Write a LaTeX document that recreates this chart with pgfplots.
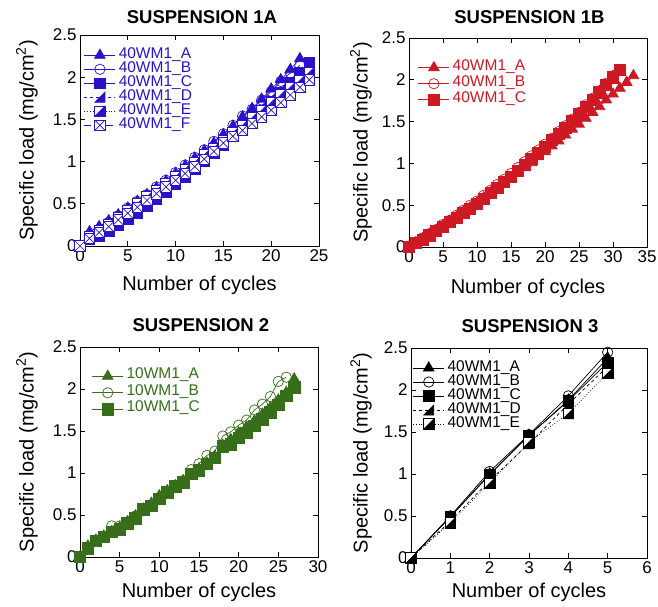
\documentclass[border=0pt]{standalone}
\usepackage{fontspec}
\setmainfont{Liberation Sans}
\usepackage{pgfplots}
\pgfplotsset{compat=1.18}
\definecolor{cB}{RGB}{40,20,200}
\definecolor{cR}{RGB}{205,25,35}
\definecolor{cG}{RGB}{55,110,25}

\pgfdeclareplotmark{rtri}{%
  \pgfpathmoveto{\pgfqpoint{-\pgfplotmarksize}{-\pgfplotmarksize}}%
  \pgfpathlineto{\pgfqpoint{\pgfplotmarksize}{-\pgfplotmarksize}}%
  \pgfpathlineto{\pgfqpoint{\pgfplotmarksize}{\pgfplotmarksize}}%
  \pgfpathclose
  \pgfusepathqfillstroke}
\newcommand\defhalfsq[2]{%
\pgfdeclareplotmark{#1}{%
  \pgfsetfillcolor{white}%
  \pgfpathrectanglecorners{\pgfqpoint{-\pgfplotmarksize}{-\pgfplotmarksize}}{\pgfqpoint{\pgfplotmarksize}{\pgfplotmarksize}}%
  \pgfusepathqfillstroke
  \pgfsetfillcolor{#2}%
  \pgfpathmoveto{\pgfqpoint{-\pgfplotmarksize}{-\pgfplotmarksize}}%
  \pgfpathlineto{\pgfqpoint{\pgfplotmarksize}{-\pgfplotmarksize}}%
  \pgfpathlineto{\pgfqpoint{\pgfplotmarksize}{\pgfplotmarksize}}%
  \pgfpathclose
  \pgfusepathqfillstroke}}
\defhalfsq{hsqB}{cB}
\defhalfsq{hsqK}{black}
\pgfdeclareplotmark{xsq}{%
  \pgfpathrectanglecorners{\pgfqpoint{-\pgfplotmarksize}{-\pgfplotmarksize}}{\pgfqpoint{\pgfplotmarksize}{\pgfplotmarksize}}%
  \pgfusepathqfillstroke
  \pgfpathmoveto{\pgfqpoint{-\pgfplotmarksize}{-\pgfplotmarksize}}%
  \pgfpathlineto{\pgfqpoint{\pgfplotmarksize}{\pgfplotmarksize}}%
  \pgfpathmoveto{\pgfqpoint{-\pgfplotmarksize}{\pgfplotmarksize}}%
  \pgfpathlineto{\pgfqpoint{\pgfplotmarksize}{-\pgfplotmarksize}}%
  \pgfusepathqstroke}

\newcommand\labfont{\fontsize{20}{24}\selectfont}
\newcommand\legfont{\fontsize{15.5}{15.5}\selectfont}
\newcommand\legE[1]{\addlegendentry{\legfont #1}}
\pgfplotsset{
  base/.style={
    scale only axis, clip=false,
    ymin=0, ymax=2.5, ytick={0,0.5,1,1.5,2,2.5},
    tick align=inside, major tick length=5pt,
    axis line style={line width=0.8pt},
    every tick/.append style={black, line width=0.8pt},
    tick label style={font=\fontsize{17}{20}\selectfont},
    /pgf/number format/assume math mode=true,
    title style={font=\fontsize{18.5}{22}\bfseries\selectfont, anchor=center},
    xlabel={Number of cycles},
    ylabel={Specific load (mg/cm\textsuperscript{2})},
    legend cell align=left,
    legend style={draw=none, fill=none, inner sep=0pt, outer sep=0pt,
      font=\legfont, column sep=3pt,
      nodes={inner sep=0pt, text height=10.5pt, text depth=3.5pt}},
    legend image code/.code={\draw[mark repeat=2,mark phase=2,##1] plot coordinates {(0pt,0pt) (15.5pt,0pt) (31pt,0pt)};},
  },
  xl/.style={xlabel style={at={(axis description cs:0.5,#1)}, anchor=center, font=\labfont}},
  yl/.style={ylabel style={at={(axis description cs:#1,0.5)}, anchor=center, rotate=0, font=\labfont}},
  sA/.style={#1, line width=0.7pt, mark=triangle*, mark size=6.2pt, mark options={solid}},
  sB/.style={#1, line width=0.7pt, mark=o, mark size=5.2pt, mark options={solid, fill=white}},
  sC/.style={#1, line width=0.7pt, mark=square*, mark size=5.2pt, mark options={solid}},
  sD/.style={#1, line width=0.7pt, dashed, mark=rtri, mark size=5pt, mark options={solid}},
}

\begin{document}
\begin{tikzpicture}
\useasboundingbox (0pt,0pt) rectangle (658pt,606pt);

% ---------------- SUSPENSION 1A ----------------
\begin{axis}[base, at={(80pt,360pt)}, anchor=south west, width=239pt, height=211pt,
  xmin=0, xmax=25, xtick={0,5,10,15,20,25},
  title={SUSPENSION 1A}, title style={at={(axis description cs:0.51,1.057)}},
  xl=-0.185, yl=-0.222,
  legend style={at={(axis description cs:0.017,0.937)}, anchor=north west, text=cB}]
\addplot[sA=cB] coordinates {(0,0) (1,0.17) (2,0.23) (3,0.30) (4,0.37) (5,0.45) (6,0.53) (7,0.61) (8,0.69) (9,0.77) (10,0.86) (11,0.95) (12,1.04) (13,1.13) (14,1.22) (15,1.32) (16,1.42) (17,1.53) (18,1.63) (19,1.74) (20,1.86) (21,1.97) (22,2.09) (23,2.22)};
\legE{40WM1\_A}
\addplot[sB=cB] coordinates {(0,0) (1,0.12) (2,0.20) (3,0.28) (4,0.36) (5,0.45) (6,0.53) (7,0.61) (8,0.70) (9,0.78) (10,0.87) (11,0.96) (12,1.05) (13,1.14) (14,1.24) (15,1.33) (16,1.43) (17,1.54) (18,1.62) (19,1.73) (20,1.83) (21,1.95) (22,2.05) (23,2.14)};
\legE{40WM1\_B}
\addplot[sC=cB] coordinates {(0,0) (1,0.08) (2,0.12) (3,0.18) (4,0.25) (5,0.32) (6,0.39) (7,0.47) (8,0.55) (9,0.64) (10,0.73) (11,0.82) (12,0.91) (13,1.00) (14,1.10) (15,1.20) (16,1.30) (17,1.40) (18,1.50) (19,1.60) (20,1.71) (21,1.82) (22,1.94) (23,2.05) (24,2.17)};
\legE{40WM1\_C}
\addplot[sD=cB] coordinates {(0,0) (1,0.10) (2,0.16) (3,0.23) (4,0.30) (5,0.38) (6,0.46) (7,0.54) (8,0.62) (9,0.71) (10,0.80) (11,0.89) (12,0.98) (13,1.07) (14,1.17) (15,1.26) (16,1.36) (17,1.46) (18,1.56) (19,1.66) (20,1.76) (21,1.86) (22,1.96) (23,2.06) (24,2.16)};
\legE{40WM1\_D}
\addplot[cB, line width=0.7pt, dotted, mark=hsqB, mark size=5.2pt, mark options={solid}] coordinates {(0,0) (1,0.11) (2,0.18) (3,0.26) (4,0.34) (5,0.42) (6,0.50) (7,0.58) (8,0.66) (9,0.74) (10,0.82) (11,0.91) (12,0.99) (13,1.08) (14,1.16) (15,1.25) (16,1.34) (17,1.43) (18,1.52) (19,1.61) (20,1.70) (21,1.79) (22,1.88) (23,1.96) (24,2.06)};
\legE{40WM1\_E}
\addplot[cB, line width=0.7pt, dash pattern=on 7pt off 4pt, mark=xsq, mark size=5.2pt, mark options={solid, fill=white}] coordinates {(0,0) (1,0.09) (2,0.16) (3,0.23) (4,0.31) (5,0.39) (6,0.46) (7,0.54) (8,0.62) (9,0.70) (10,0.78) (11,0.86) (12,0.94) (13,1.03) (14,1.12) (15,1.22) (16,1.30) (17,1.37) (18,1.45) (19,1.53) (20,1.61) (21,1.70) (22,1.79) (23,1.88) (24,1.97)};
\legE{40WM1\_F}
\end{axis}

% ---------------- SUSPENSION 1B ----------------
\begin{axis}[base, at={(409pt,359pt)}, anchor=south west, width=238pt, height=209pt,
  xmin=0, xmax=35, xtick={0,5,10,15,20,25,30,35},
  title={SUSPENSION 1B}, title style={at={(axis description cs:0.506,1.07)}},
  xl=-0.199, yl=-0.202,
  legend style={at={(axis description cs:0.038,0.896)}, anchor=north west, text=cR,
    nodes={text depth=5.5pt}}]
\addplot[sA=cR] coordinates {(0,0) (1,0.05) (2,0.10) (3,0.15) (4,0.20) (5,0.255) (6,0.31) (7,0.36) (8,0.42) (9,0.47) (10,0.53) (11,0.59) (12,0.65) (13,0.70) (14,0.76) (15,0.83) (16,0.89) (17,0.95) (18,1.01) (19,1.08) (20,1.14) (21,1.21) (22,1.27) (23,1.34) (24,1.41) (25,1.47) (26,1.54) (27,1.61) (28,1.68) (29,1.76) (30,1.83) (31,1.90) (32,1.97) (33,2.05)};
\legE{40WM1\_A}
\addplot[sB=cR] coordinates {(0,0) (1,0.06) (2,0.11) (3,0.16) (4,0.21) (5,0.27) (6,0.32) (7,0.38) (8,0.44) (9,0.50) (10,0.55) (11,0.62) (12,0.68) (13,0.75) (14,0.81) (15,0.88) (16,0.95) (17,1.02) (18,1.09) (19,1.16) (20,1.23) (21,1.30) (22,1.38) (23,1.45) (24,1.53) (25,1.61) (26,1.70) (27,1.78) (28,1.87) (29,1.96) (30,2.05)};
\legE{40WM1\_B}
\addplot[sC=cR, mark size=5.6pt] coordinates {(0,0) (1,0.05) (2,0.09) (3,0.14) (4,0.19) (5,0.24) (6,0.30) (7,0.35) (8,0.41) (9,0.46) (10,0.52) (11,0.58) (12,0.65) (13,0.71) (14,0.78) (15,0.84) (16,0.91) (17,0.98) (18,1.05) (19,1.13) (20,1.20) (21,1.28) (22,1.35) (23,1.43) (24,1.51) (25,1.59) (26,1.68) (27,1.76) (28,1.85) (29,1.94) (30,2.03) (31,2.12)};
\legE{40WM1\_C}
\end{axis}

% ---------------- SUSPENSION 2 ----------------
\begin{axis}[base, at={(80pt,49pt)}, anchor=south west, width=238pt, height=210pt,
  xmin=0, xmax=30, xtick={0,5,10,15,20,25,30},
  title={SUSPENSION 2}, title style={at={(axis description cs:0.508,1.074)}},
  xl=-0.167, yl=-0.223,
  legend style={at={(axis description cs:0.05,0.9)}, anchor=north west, text=cG,
    nodes={text depth=6pt}}]
\addplot[sA=cG] coordinates {(0,0) (1,0.13) (2,0.20) (3,0.25) (4,0.30) (5,0.35) (6,0.42) (7,0.49) (8,0.57) (9,0.64) (10,0.73) (11,0.79) (12,0.85) (13,0.91) (14,0.98) (15,1.05) (16,1.12) (17,1.20) (18,1.33) (19,1.40) (20,1.48) (21,1.55) (22,1.62) (23,1.70) (24,1.78) (25,1.87) (26,1.96) (27,2.12)};
\legE{10WM1\_A}
\addplot[sB=cG] coordinates {(0,0) (1,0.11) (2,0.19) (3,0.24) (4,0.37) (5,0.37) (6,0.42) (7,0.49) (8,0.55) (9,0.62) (10,0.69) (11,0.77) (12,0.85) (13,0.91) (14,1.04) (15,1.11) (16,1.21) (17,1.26) (18,1.44) (19,1.49) (20,1.57) (21,1.63) (22,1.75) (23,1.82) (24,1.91) (25,2.09) (26,2.14)};
\legE{10WM1\_B}
\addplot[sC=cG, mark size=5.8pt] coordinates {(0,0) (1,0.10) (2,0.19) (3,0.24) (4,0.30) (5,0.33) (6,0.40) (7,0.46) (8,0.57) (9,0.61) (10,0.69) (11,0.77) (12,0.84) (13,0.89) (14,0.99) (15,1.03) (16,1.11) (17,1.18) (18,1.32) (19,1.34) (20,1.42) (21,1.48) (22,1.56) (23,1.64) (24,1.72) (25,1.81) (26,1.92) (27,2.02)};
\legE{10WM1\_C}
\end{axis}

% ---------------- SUSPENSION 3 ----------------
\begin{axis}[base, at={(411pt,48pt)}, anchor=south west, width=236pt, height=210pt,
  xmin=0, xmax=6, xtick={0,1,2,3,4,5,6},
  title={SUSPENSION 3}, title style={at={(axis description cs:0.504,1.074)}},
  xl=-0.162, yl=-0.212,
  legend style={at={(axis description cs:0.008,0.938)}, anchor=north west, text=black}]
\addplot[sA=black] coordinates {(0,0) (1,0.49) (2,1.00) (3,1.46) (4,1.88) (5,2.38)};
\legE{40WM1\_A}
\addplot[sB=black] coordinates {(0,0) (1,0.50) (2,1.03) (3,1.47) (4,1.93) (5,2.45)};
\legE{40WM1\_B}
\addplot[sC=black] coordinates {(0,0) (1,0.49) (2,0.99) (3,1.46) (4,1.87) (5,2.33)};
\legE{40WM1\_C}
\addplot[sD=black] coordinates {(0,0) (1,0.44) (2,0.92) (3,1.36) (4,1.83) (5,2.28)};
\legE{40WM1\_D}
\addplot[black, line width=0.7pt, dotted, mark=hsqK, mark size=5.2pt, mark options={solid}] coordinates {(0,0) (1,0.42) (2,0.89) (3,1.38) (4,1.72) (5,2.20)};
\legE{40WM1\_E}
\end{axis}
\end{tikzpicture}
\end{document}
